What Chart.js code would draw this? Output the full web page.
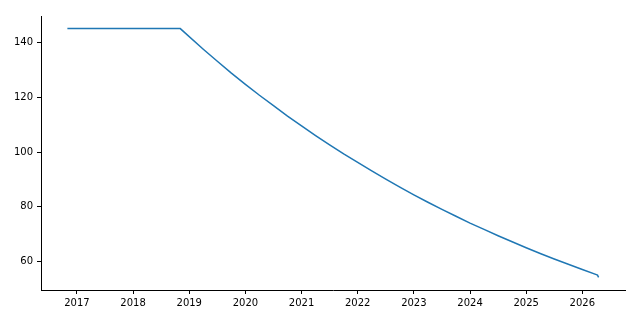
<!DOCTYPE html>
<html>
<head>
<meta charset="utf-8">
<script src="https://cdn.jsdelivr.net/npm/chart.js@4"></script>
<style>
html,body{margin:0;padding:0;background:#fff;}
#wrap{width:640px;height:320px;position:relative;}
</style>
</head>
<body>
<div id="wrap"><canvas id="c" width="640" height="320"></canvas></div>
<script>
// decimal years
const years = [2016.83, 2018.84, 2019.25, 2019.5, 2019.75, 2020.0, 2020.25, 2020.5, 2020.75,
  2021.0, 2021.25, 2021.5, 2021.75, 2022.0, 2022.25, 2022.5, 2022.75,
  2023.0, 2023.25, 2023.5, 2023.75, 2024.0, 2024.25, 2024.5, 2024.75,
  2025.0, 2025.25, 2025.5, 2025.75, 2026.0, 2026.25, 2026.27, 2026.29];
const values = [145, 145, 137.5, 133.1, 128.8, 124.7, 120.7, 116.9, 113.1,
  109.5, 106.0, 102.6, 99.3, 96.2, 93.1, 90.1, 87.2,
  84.4, 81.7, 79.1, 76.6, 74.1, 71.8, 69.5, 67.3,
  65.1, 63.0, 61.0, 59.1, 57.2, 55.3, 55.1, 54.3];
const xTicks = [2017, 2018, 2019, 2020, 2021, 2022, 2023, 2024, 2025, 2026];
const yTicks = [60, 80, 100, 120, 140];

const pts = years.map((x, i) => ({x: x, y: values[i]}));
const font = {family: 'DejaVu Sans', size: 10};

new Chart(document.getElementById('c'), {
  type: 'line',
  data: {datasets: [{data: pts, borderColor: '#1f77b4', borderWidth: 1.5,
    pointRadius: 0, fill: false, tension: 0}]},
  options: {
    responsive: false, animation: false,
    layout: {padding: {left: 0, right: 15, top: 16, bottom: 0}},
    plugins: {legend: {display: false}, tooltip: {enabled: false}},
    scales: {
      x: {
        type: 'linear', min: 2016.36, max: 2026.76,
        afterBuildTicks: s => { s.ticks = xTicks.map(v => ({value: v})); },
        afterFit: s => { s.height = 30; },
        ticks: {color: '#000', font: font, padding: 3, maxRotation: 0,
          callback: v => String(v)},
        grid: {drawOnChartArea: false, drawTicks: true, tickLength: 4, tickColor: '#000'},
        border: {color: '#000', width: 1}
      },
      y: {
        min: 49.7, max: 149.6,
        afterBuildTicks: s => { s.ticks = yTicks.map(v => ({value: v})); },
        afterFit: s => { s.width = 41; },
        ticks: {color: '#000', font: font, padding: 4},
        grid: {drawOnChartArea: false, drawTicks: true, tickLength: 4, tickColor: '#000'},
        border: {color: '#000', width: 1}
      }
    }
  }
});
</script>
</body>
</html>
